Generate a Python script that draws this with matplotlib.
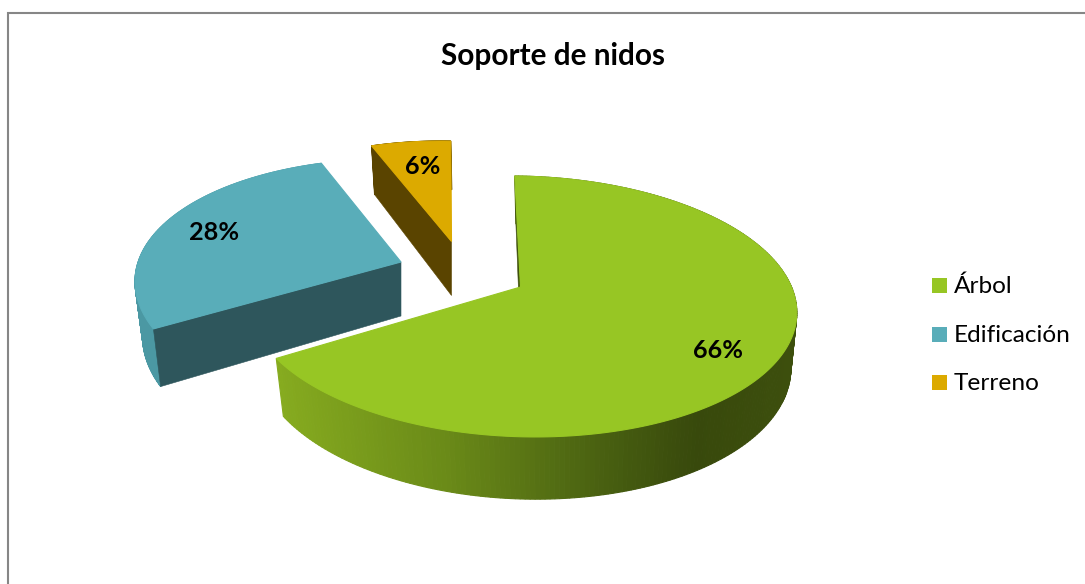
import numpy as np
import matplotlib
matplotlib.use("Agg")
import matplotlib.pyplot as plt
from matplotlib.patches import Polygon, Rectangle
from matplotlib.colors import LinearSegmentedColormap

plt.rcParams['font.family'] = ['Lato', 'DejaVu Sans']

title = "Soporte de nidos"
categories = ["Árbol", "Edificación", "Terreno"]
values = [66, 28, 6]
colors = ["#97c624", "#59adb9", "#dcaa00"]
cut_colors = ["#3f510c", "#2e565c", "#5a4400"]

W, H = 1085, 584
fig = plt.figure(figsize=(W / 100, H / 100), dpi=100)
ax = fig.add_axes([0, 0, 1, 1])
ax.set_xlim(0, W)
ax.set_ylim(H, 0)
ax.axis("off")

# Chart frame (only left and top lie inside the picture)
ax.plot([8, 8, W], [H, 13, 13], color="#868686", lw=1.5, solid_joinstyle="miter")

# Projection of the tilted pie
RX, RY = 271.0, 127.6
SHEAR = 0.1
DEPTH = 54.0
DEPTH_SLOPE = 0.055
BOTTOM_SCALE = 0.975
START_DEG = 88.7

apexes = [(520.5, 287.0), (401.0, 262.0), (451.5, 241.5)]
scales = [1.0, 0.97, 0.905]
perspectives = [0.149, 0.2, 0.149]
rotations = [0.0, -1.9, -1.2]


def project(theta, apex, scale, persp, bottom=False):
    den = 1 + persp * np.sin(theta)
    dy = -scale * RY * np.sin(theta) / den
    dx = scale * RX * np.cos(theta) / den + SHEAR * dy
    if bottom:
        return np.column_stack([apex[0] + BOTTOM_SCALE * dx + 1.0,
                                apex[1] + dy + DEPTH + DEPTH_SLOPE * dy])
    return np.column_stack([apex[0] + dx, apex[1] + dy])


fractions = np.array(values, dtype=float) / sum(values)
ends = np.radians(START_DEG) - 2 * np.pi * np.cumsum(fractions)
starts = np.concatenate([[np.radians(START_DEG)], ends[:-1]])

green_side = LinearSegmentedColormap.from_list(
    "side", [(0.0, "#86ab1f"), (0.33, "#6a8a18"), (0.66, "#465d10"),
             (0.82, "#38490c"), (1.0, "#3d4f0d")])

for i in range(len(values)):
    apex, sc, p = apexes[i], scales[i], perspectives[i]
    rot = np.radians(rotations[i])
    th = np.linspace(starts[i] + rot, ends[i] + rot, 260)
    top = project(th, apex, sc, p)
    bot = project(th, apex, sc, p, bottom=True)

    # outer wall
    for j in range(len(th) - 1):
        if i == 0:
            c = green_side(np.clip((top[j, 0] - 277) / (793 - 277), 0, 1))
        elif i == 1:
            c = "#4b98a3"
        else:
            c = cut_colors[2]
        quad = [top[j], top[j + 1], bot[j + 1], bot[j]]
        ax.add_patch(Polygon(quad, closed=True, fc=c, ec=c, lw=0.8, zorder=2))

    # visible cut face (leading edge of each slice)
    apex_b = (apex[0], apex[1] + DEPTH)
    face = [apex, top[0], bot[0], apex_b]
    ax.add_patch(Polygon(face, closed=True, fc=cut_colors[i], ec=cut_colors[i],
                         lw=0.4, zorder=3))

    # top face
    ax.add_patch(Polygon(np.vstack([[apex], top]), closed=True, fc=colors[i],
                         ec=colors[i], lw=0.8, zorder=4))

# Data labels
label_pos = [(718, 350), (214, 232), (423, 166)]
for v, (x, y) in zip(values, label_pos):
    ax.text(x, y, f"{v}%", ha="center", va="center", fontsize=18.2,
            fontweight="bold", color="black", zorder=5)

# Title
ax.text(553, 56, title, ha="center", va="center", fontsize=21.4,
        fontweight="bold", color="black")

# Legend
legend_y = [286, 335, 383]
for name, c, y in zip(categories, colors, legend_y):
    ax.add_patch(Rectangle((932, y - 8), 15, 15, fc=c, ec="none"))
    ax.text(954, y, name, ha="left", va="center", fontsize=17.6, color="black")

fig.savefig("out.png", dpi=100)
